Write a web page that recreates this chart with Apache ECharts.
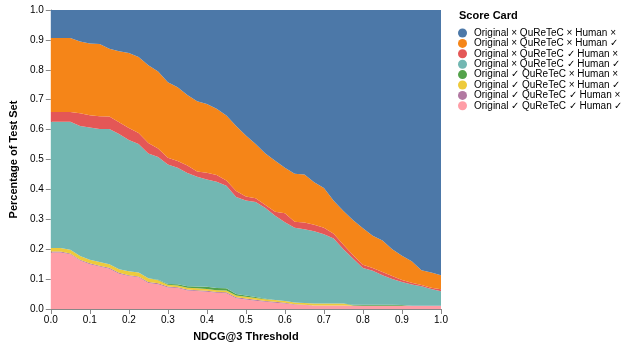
<!DOCTYPE html>
<html>
<head>
<meta charset="utf-8">
<script src="https://cdn.jsdelivr.net/npm/echarts@6/dist/echarts.min.js"></script>
<style>
  html, body { margin: 0; padding: 0; background: #fff; }
  #chart { width: 628px; height: 347px; }
</style>
</head>
<body>
<div id="chart"></div>
<script>
// NDCG@3 thresholds
const thresholds = [0.0, 0.025, 0.05, 0.075, 0.1, 0.125, 0.15, 0.175, 0.2, 0.225,
    0.25, 0.275, 0.3, 0.325, 0.35, 0.375, 0.4, 0.425, 0.45, 0.475,
    0.5, 0.525, 0.55, 0.575, 0.6, 0.625, 0.65, 0.675, 0.7, 0.725,
    0.75, 0.775, 0.8, 0.825, 0.85, 0.875, 0.9, 0.925, 0.95, 0.975, 1.0];

// share of test set per score card (bottom of stack first)
const okOkOk = [0.189, 0.189, 0.183, 0.162, 0.150, 0.142, 0.135, 0.118, 0.110, 0.106,
    0.087, 0.083, 0.072, 0.070, 0.062, 0.060, 0.058, 0.054, 0.053, 0.036,
    0.032, 0.028, 0.024, 0.021, 0.018, 0.014, 0.013, 0.012, 0.012, 0.012,
    0.012, 0.011, 0.011, 0.011, 0.011, 0.011, 0.011, 0.011, 0.011, 0.011, 0.011];
const okOkNo = [0.003, 0.003, 0.003, 0.003, 0.003, 0.003, 0.003, 0.003, 0.003, 0.003,
    0.003, 0.003, 0.003, 0.003, 0.003, 0.003, 0.003, 0.003, 0.003, 0.003,
    0.003, 0.003, 0.003, 0.003, 0.003, 0.002, 0.001, 0, 0, 0,
    0, 0, 0, 0, 0, 0, 0, 0, 0, 0, 0];
const okNoOk = [0.012, 0.012, 0.012, 0.012, 0.012, 0.012, 0.012, 0.012, 0.013, 0.013,
    0.013, 0.010, 0.006, 0.006, 0.006, 0.006, 0.006, 0.006, 0.006, 0.006,
    0.006, 0.006, 0.006, 0.006, 0.006, 0.006, 0.006, 0.006, 0.006, 0.006,
    0.006, 0.001, 0, 0, 0, 0, 0, 0, 0, 0, 0];
const okNoNo = [0, 0, 0, 0, 0, 0, 0, 0, 0, 0,
    0, 0.002, 0.003, 0.004, 0.005, 0.006, 0.007, 0.007, 0.007, 0.005,
    0.004, 0.003, 0.001, 0, 0, 0, 0, 0, 0, 0,
    0, 0.002, 0.003, 0.003, 0.003, 0.003, 0.002, 0, 0, 0, 0];
const noOkOk = [0.422, 0.422, 0.428, 0.435, 0.442, 0.445, 0.452, 0.452, 0.439, 0.430,
    0.417, 0.410, 0.399, 0.389, 0.379, 0.367, 0.359, 0.356, 0.343, 0.325,
    0.318, 0.318, 0.304, 0.282, 0.263, 0.250, 0.247, 0.242, 0.232, 0.218,
    0.182, 0.154, 0.123, 0.114, 0.099, 0.086, 0.077, 0.071, 0.065, 0.056, 0.048];
const noOkNo = [0.033, 0.033, 0.033, 0.043, 0.041, 0.043, 0.042, 0.040, 0.040, 0.037,
    0.035, 0.029, 0.023, 0.023, 0.025, 0.018, 0.023, 0.022, 0.018, 0.020,
    0.013, 0.012, 0.010, 0.013, 0.030, 0.020, 0.022, 0.022, 0.022, 0.016,
    0.015, 0.012, 0.011, 0.009, 0.011, 0.010, 0.007, 0.006, 0.004, 0.004, 0.007];
const noNoOk = [0.247, 0.247, 0.247, 0.240, 0.240, 0.241, 0.226, 0.237, 0.251, 0.254,
    0.260, 0.257, 0.252, 0.247, 0.236, 0.235, 0.230, 0.222, 0.217, 0.217,
    0.204, 0.182, 0.172, 0.171, 0.152, 0.160, 0.161, 0.142, 0.133, 0.110,
    0.113, 0.117, 0.122, 0.108, 0.105, 0.090, 0.081, 0.072, 0.050, 0.051, 0.047];
const noNoNo = [0.094, 0.094, 0.094, 0.105, 0.112, 0.114, 0.130, 0.138, 0.144, 0.157,
    0.185, 0.206, 0.242, 0.258, 0.284, 0.305, 0.314, 0.330, 0.353, 0.388,
    0.420, 0.448, 0.480, 0.504, 0.528, 0.548, 0.550, 0.576, 0.595, 0.638,
    0.672, 0.703, 0.730, 0.755, 0.771, 0.800, 0.822, 0.840, 0.870, 0.878, 0.887];

const legendNames = [
    'Original \u00d7 QuReTeC \u00d7 Human \u00d7',
    'Original \u00d7 QuReTeC \u00d7 Human \u2713',
    'Original \u00d7 QuReTeC \u2713 Human \u00d7',
    'Original \u00d7 QuReTeC \u2713 Human \u2713',
    'Original \u2713 QuReTeC \u00d7 Human \u00d7',
    'Original \u2713 QuReTeC \u00d7 Human \u2713',
    'Original \u2713 QuReTeC \u2713 Human \u00d7',
    'Original \u2713 QuReTeC \u2713 Human \u2713'
];
const colors = ['#4c78a8', '#f58518', '#e45756', '#72b7b2', '#54a24b', '#eeca3b', '#b279a2', '#ff9da6'];
const seriesValues = [noNoNo, noNoOk, noOkNo, noOkOk, okNoNo, okNoOk, okOkNo, okOkOk];

const font = 'Liberation Sans, Arial, Helvetica, sans-serif';

// stack bottom-up: last legend entry goes first
const series = [];
for (let i = seriesValues.length - 1; i >= 0; i--) {
    series.push({
        name: legendNames[i],
        type: 'line',
        stack: 'total',
        symbol: 'none',
        smooth: false,
        color: colors[i],
        lineStyle: { width: 0 },
        areaStyle: { color: colors[i], opacity: 1 },
        emphasis: { disabled: true },
        data: seriesValues[i]
    });
}

// show a label/tick only every 0.1
const isTenth = (idx) => idx % 4 === 0;

const chart = echarts.init(document.getElementById('chart'));
chart.setOption({
    animation: false,
    textStyle: { fontFamily: font },
    title: {
        text: 'Score Card',
        left: 454,
        top: 5,
        textStyle: { fontSize: 11, fontWeight: 'bold', color: '#000', fontFamily: font }
    },
    legend: {
        orient: 'vertical',
        left: 453,
        top: 23,
        icon: 'circle',
        itemWidth: 9,
        itemHeight: 9,
        itemGap: 0.4,
        selectedMode: false,
        data: legendNames,
        textStyle: { fontSize: 10, color: '#000', lineHeight: 10, padding: [0, 0, 0, 2], fontFamily: font }
    },
    grid: { left: 41, right: 187, top: 10, bottom: 37, containLabel: false },
    xAxis: {
        type: 'category',
        boundaryGap: false,
        data: thresholds,
        name: 'NDCG@3 Threshold',
        nameLocation: 'middle',
        nameGap: 22,
        nameTextStyle: { fontSize: 11, fontWeight: 'bold', color: '#000' },
        axisLine: { lineStyle: { color: '#888' } },
        axisTick: { show: true, length: 5, interval: isTenth, lineStyle: { color: '#888' } },
        axisLabel: { fontSize: 10, color: '#000', margin: 6, interval: isTenth, formatter: v => Number(v).toFixed(1) },
        splitLine: { show: false }
    },
    yAxis: {
        type: 'value',
        min: 0,
        max: 1,
        interval: 0.1,
        name: 'Percentage of Test Set',
        nameLocation: 'middle',
        nameGap: 30,
        nameTextStyle: { fontSize: 11, fontWeight: 'bold', color: '#000' },
        axisLine: { show: true, lineStyle: { color: '#888' } },
        axisTick: { show: true, length: 5, lineStyle: { color: '#888' } },
        axisLabel: { fontSize: 10, color: '#000', margin: 7, formatter: v => v.toFixed(1) },
        splitLine: { show: false }
    },
    series: series
});
</script>
</body>
</html>
